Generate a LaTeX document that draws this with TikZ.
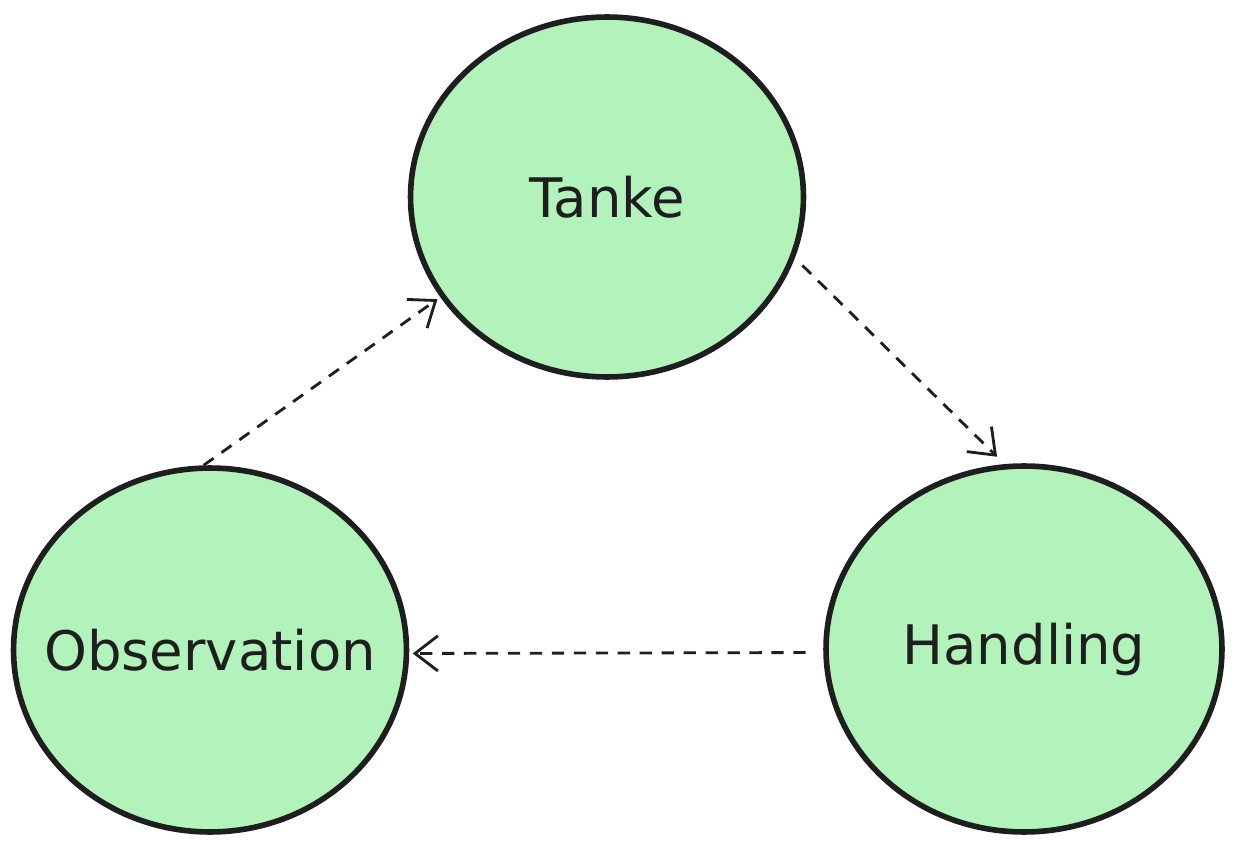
\documentclass[tikz,border=0pt]{standalone}
\usepackage{fontspec}
\setmainfont{DejaVu Sans}
\usetikzlibrary{shapes.geometric,arrows.meta}
\definecolor{leaf}{HTML}{B2F2BB}
\definecolor{ink}{HTML}{1E1E1E}

\begin{document}
\begin{tikzpicture}[x=0.02cm, y=-0.02cm,
    phase/.style={draw=ink, fill=leaf, ellipse, line width=3.2pt, text=ink, inner sep=0pt,
        font=\fontsize{31}{36}\selectfont},
    flow/.style={draw=ink, line width=1.6pt, dash pattern=on 7pt off 5.5pt,
        -{Straight Barb[length=13pt, width=20pt, line width=1.6pt]}}]
    \useasboundingbox (0,0) rectangle (1235,848);
    \node[phase, minimum width=7.86cm, minimum height=7.2cm] (tanke) at (607,197) {\makebox[0pt]{Tanke}};
    \node[phase, minimum width=7.86cm, minimum height=7.28cm] (obs) at (210,650) {\makebox[0pt]{Observation}};
    \node[phase, minimum width=7.92cm, minimum height=7.32cm] (handling) at (1024,649) {\makebox[0pt]{Handling}};
    \draw[flow, shorten >=2pt] (obs.92) -- (tanke.211);
    \draw[flow, shorten <=6pt, shorten >=6pt] (tanke.-18) -- (handling.96);
    \draw[flow, shorten <=10pt, shorten >=2pt] (handling.-179) -- (obs.-1);
\end{tikzpicture}
\end{document}
